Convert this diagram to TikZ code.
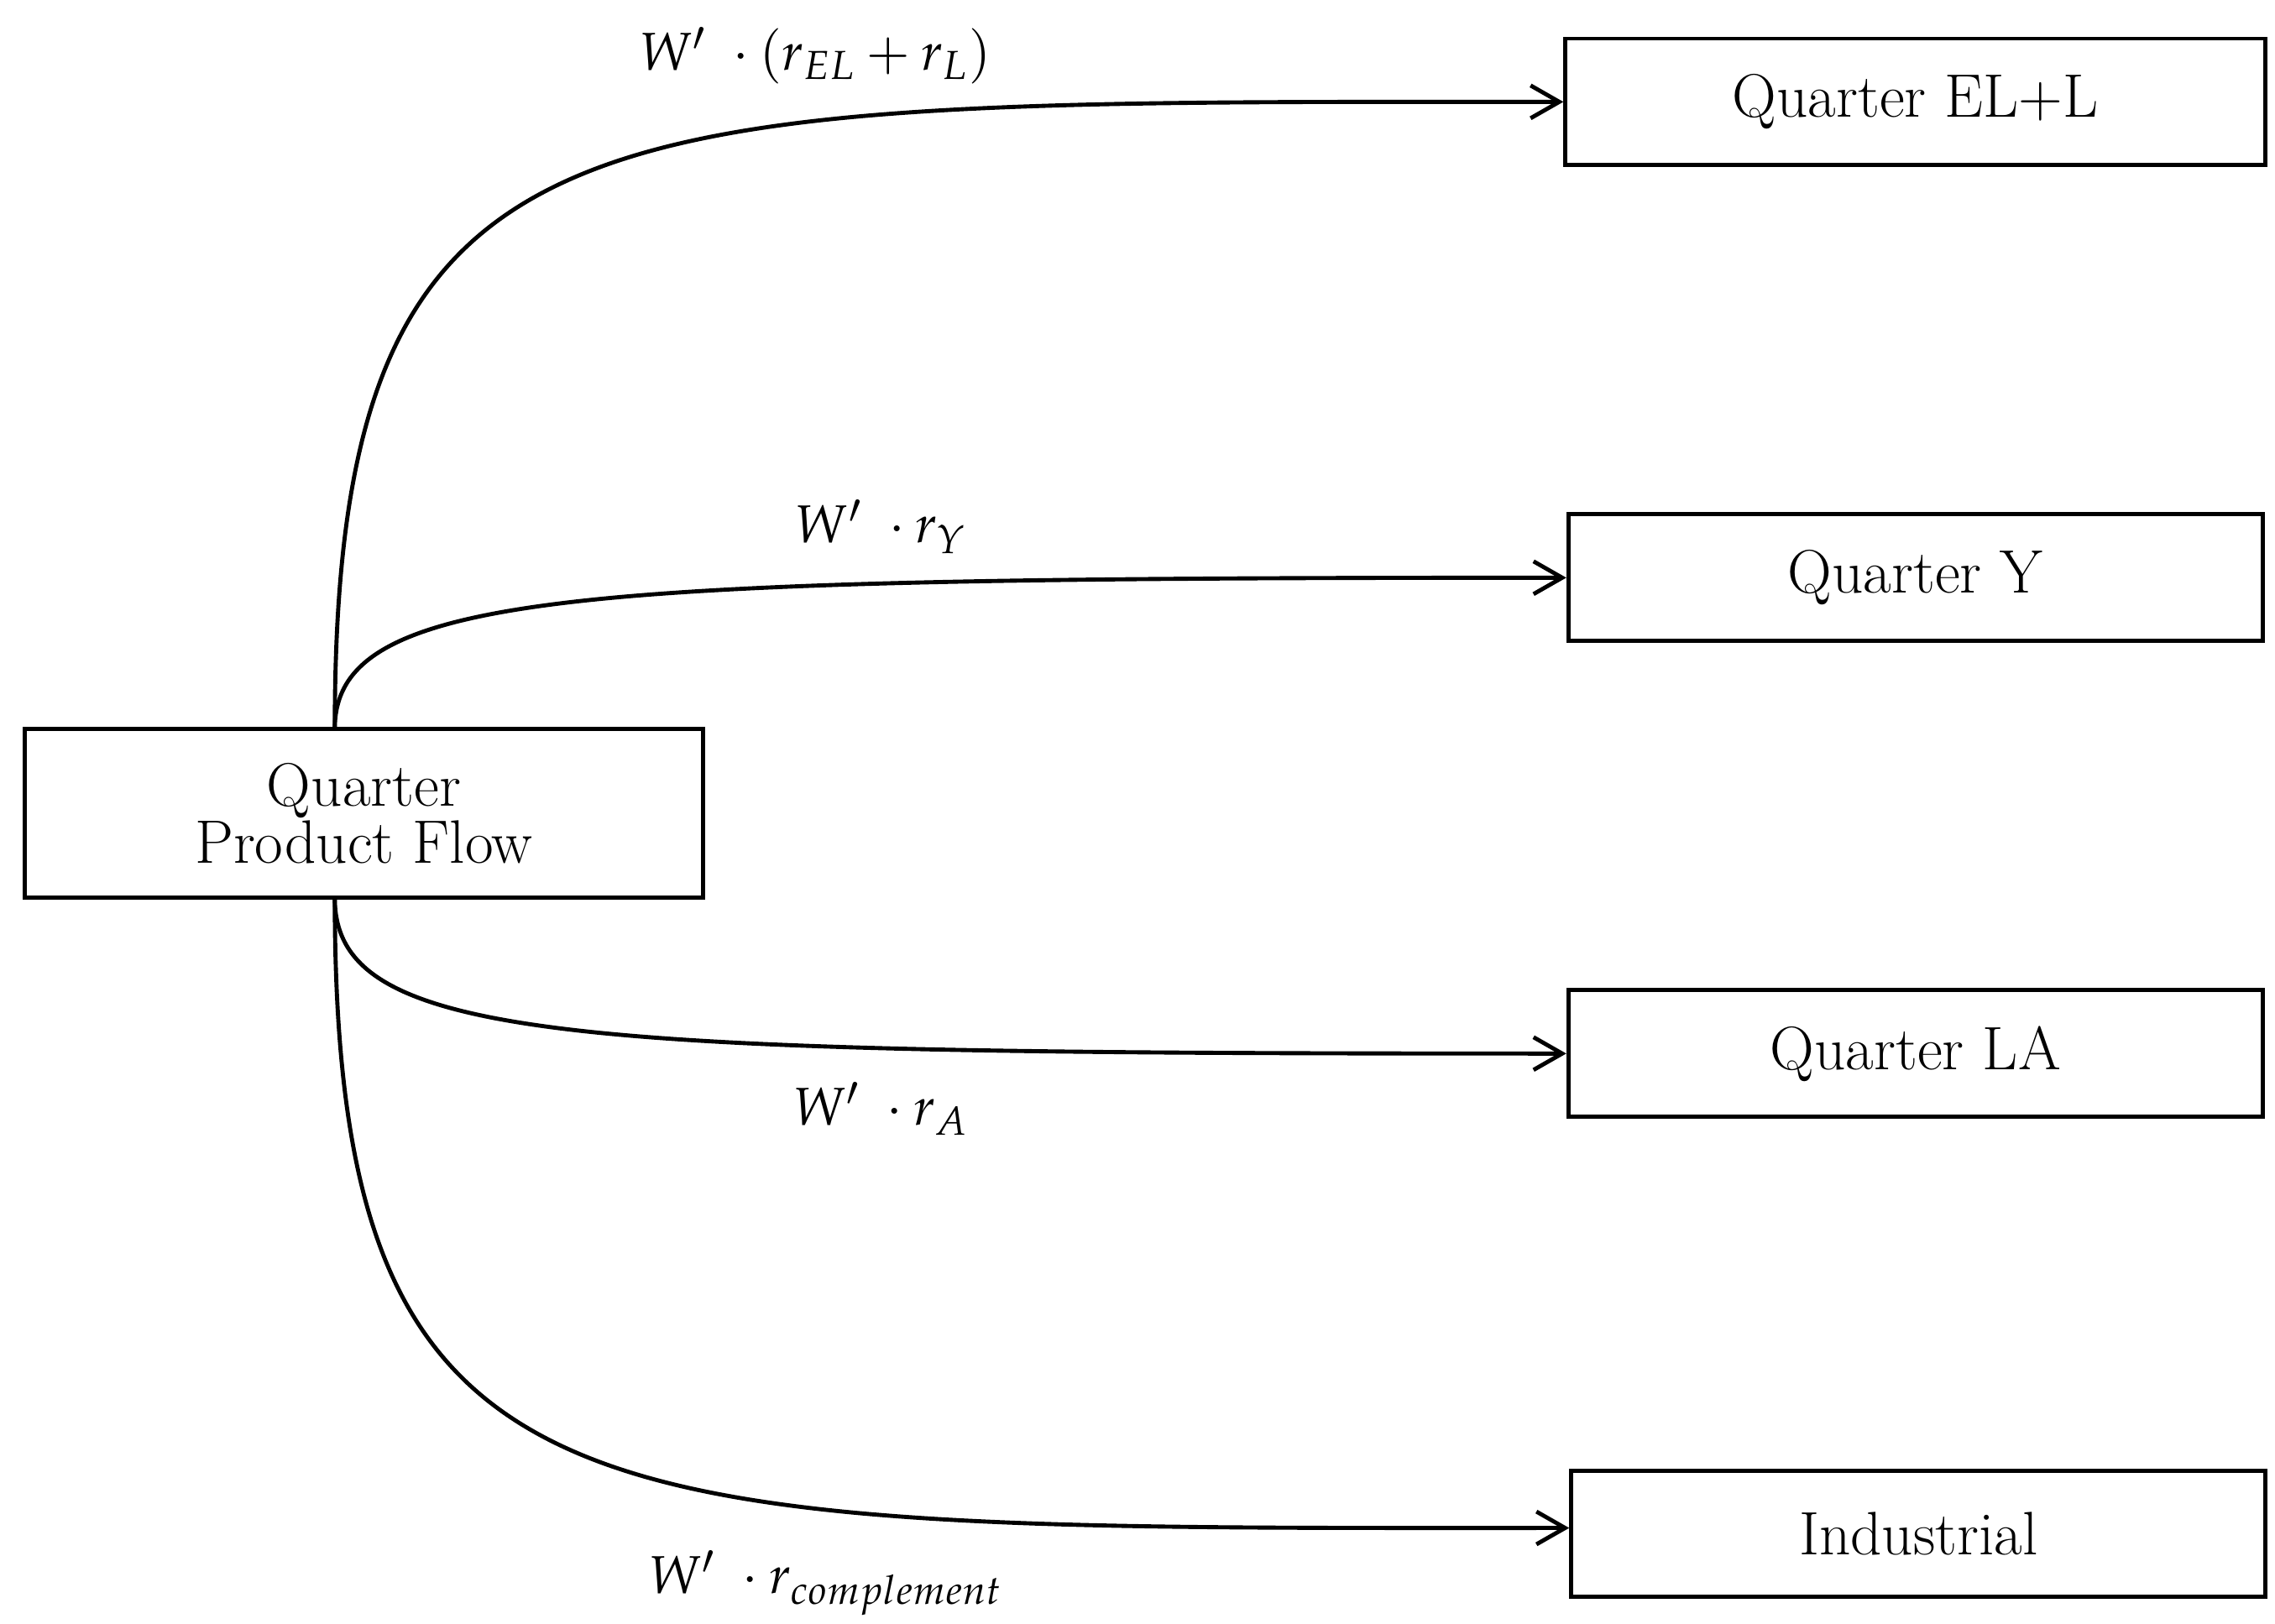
\documentclass[tikz,border=0pt]{standalone}
\usepackage{mathpazo}
\usetikzlibrary{arrows.meta}
\begin{document}
\begin{tikzpicture}[x=0.025cm,y=-0.025cm,
  box/.style={draw,line width=2pt,minimum width=477*0.025cm,minimum height=87*0.025cm,inner sep=0pt,font=\fontsize{30}{34}\selectfont,align=center},
  flow/.style={line width=2pt,-{Straight Barb[length=14pt,width=16pt,line width=2pt]}},
  lab/.style={font=\fontsize{26}{30}\selectfont}]
\useasboundingbox (0,0) rectangle (1563,1116);
\node[box,minimum width=466*0.025cm,minimum height=116*0.025cm] (src) at (250,559) {Quarter\\[-6pt]Product Flow};
\node[box,minimum width=481*0.025cm] (el) at (1316,70) {Quarter EL+L};
\node[box] (y) at (1316,397) {Quarter Y};
\node[box] (la) at (1316,724) {Quarter LA};
\node[box] (ind) at (1318,1054) {Industrial};
\coordinate (st) at (230,501);
\coordinate (sb) at (230,617);
\draw[flow] (st) .. controls (230,60) and (400,70) .. (el.west);
\draw[flow] (st) .. controls (230,405) and (400,397) .. (y.west);
\draw[flow] (sb) .. controls (230,718) and (400,724) .. (la.west);
\draw[flow] (sb) .. controls (230,1060) and (400,1050) .. (ind.west |- 0,1050);
\node[lab] (l1) at (560,38) {$W'\ \cdot(r_{EL}+r_L)$};
\node[lab] (l2) at (605,362) {$W'\ \cdot r_Y$};
\node[lab] (l3) at (605,762) {$W'\ \cdot r_A$};
\node[lab] (l4) at (567,1088) {$W'\ \cdot r_{complement}$};
\end{tikzpicture}
\end{document}
